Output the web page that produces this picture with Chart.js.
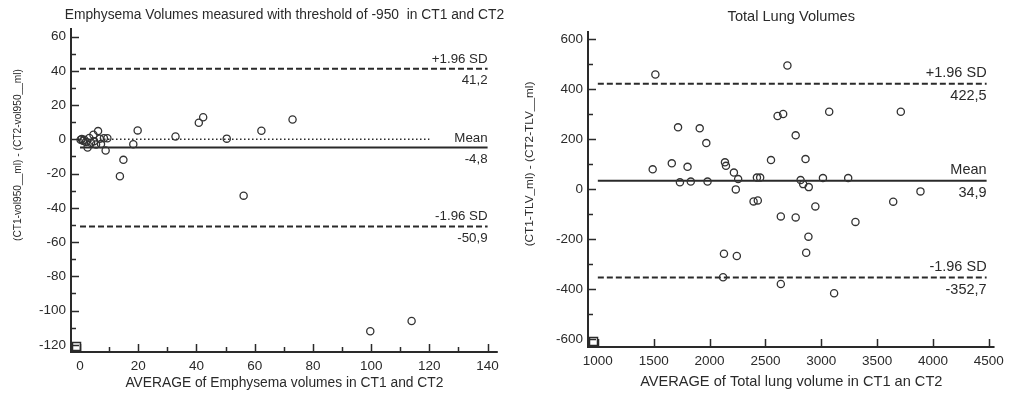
<!DOCTYPE html>
<html><head><meta charset="utf-8">
<script src="https://cdn.jsdelivr.net/npm/chart.js@4"></script>
<style>
html,body{margin:0;padding:0;background:#fff;}
#wrap{position:relative;width:1010px;height:393px;}
canvas{position:absolute;top:0;}
</style></head><body>
<div id="wrap">
<canvas id="c1" width="505" height="393" style="left:0"></canvas>
<canvas id="c2" width="505" height="393" style="left:505px"></canvas>
</div>
<script>
// ---- Data: Emphysema volumes (threshold -950) ----
const emphX = [0.2,0.6,1.0,1.5,2.0,2.6,3.2,3.8,4.6,4.8,5.5,6.2,6.8,7.2,8.2,8.8,9.4,13.7,14.9,18.3,19.8,32.8,40.8,42.3,50.4,56.2,62.3,73.0,99.7,113.9];
const emphY = [-0.3,0.2,-0.8,-0.2,-1.5,-4.8,0.8,-2.0,2.7,-1.2,-3.0,4.8,0.4,-2.8,0.6,-6.5,0.6,-21.6,-12.0,-2.9,5.2,1.7,9.7,12.9,0.4,-32.9,5.0,11.6,-112.1,-106.1];
const emphMean = -4.8;
const emphUpper = 41.2;
const emphLower = -50.9;
const emphLineRange = [0, 140];
const emphZeroRange = [0, 120];
const emphXTicks = [0, 20, 40, 60, 80, 100, 120, 140];
const emphYTicks = [-120, -100, -80, -60, -40, -20, 0, 20, 40, 60];

// ---- Data: Total lung volumes ----
const tlvX = [1491,1515,1662,1718,1735,1803,1832,1912,1971,1982,2121,2129,2138,2147,2218,2235,2244,2256,2394,2424,2432,2453,2550,2609,2638,2638,2659,2697,2771,2771,2815,2838,2859,2865,2885,2888,2947,3015,3071,3115,3241,3306,3644,3712,3888];
const tlvY = [80,459,104,248,28,90,31,244,185,31,-351,-257,108,94,67,0,-266,41,-48,47,-44,47,117,293,-108,-378,301,495,216,-112,37,21,121,-253,-189,9,-68,45,310,-415,45,-130,-49,310,-8];
const tlvMean = 34.9;
const tlvUpper = 422.5;
const tlvLower = -352.7;
const tlvLineRange = [1000, 4480];
const tlvXTicks = [1000, 1500, 2000, 2500, 3000, 3500, 4000, 4500];
const tlvYTicks = [-600, -400, -200, 0, 200, 400, 600];

// ---- Text ----
const emphTitle = "Emphysema Volumes measured with threshold of -950  in CT1 and CT2";
const emphXTitle = "AVERAGE of Emphysema volumes in CT1 and CT2";
const emphYTitle = "(CT1-vol950__ml) - (CT2-vol950__ml)";
const tlvTitle = "Total Lung Volumes";
const tlvXTitle = "AVERAGE of Total lung volume in CT1 an CT2";
const tlvYTitle = "(CT1-TLV_ml) - (CT2-TLV__ml)";
const upperLabel = "+1.96 SD", meanLabel = "Mean", lowerLabel = "-1.96 SD";

const FONT = "'Liberation Sans', Arial, sans-serif";
const INK = '#2a2a2a';
const fmt = v => v.toFixed(1).replace('.', ',');
const toPts = (xs, ys) => xs.map((x, i) => ({x, y: ys[i]}));
const hline = (range, v) => [{x: range[0], y: v}, {x: range[1], y: v}];
const minorVals = arr => arr.slice(1).map((v, i) => (v + arr[i]) / 2);

const decor = {
  id: 'decor',
  afterDraw(chart, args, o) {
    const ctx = chart.ctx, a = chart.chartArea;
    const xs = chart.scales.x, ys = chart.scales.y;
    ctx.save();
    ctx.strokeStyle = INK; ctx.fillStyle = INK;
    ctx.lineWidth = 2;
    ctx.beginPath();
    ctx.moveTo(a.left, a.top); ctx.lineTo(a.left, a.bottom); ctx.lineTo(a.right, a.bottom);
    ctx.stroke();
    ctx.lineWidth = 1.5;
    const yt = ys.ticks.map(t => t.value), xt = xs.ticks.map(t => t.value);
    ctx.beginPath();
    yt.forEach(v => { const p = Math.round(ys.getPixelForValue(v)) + 0.5; ctx.moveTo(a.left, p); ctx.lineTo(a.left + 8, p); });
    if (o.minorY) minorVals(yt).forEach(v => { const p = Math.round(ys.getPixelForValue(v)) + 0.5; ctx.moveTo(a.left, p); ctx.lineTo(a.left + 5, p); });
    xt.forEach(v => { const p = Math.round(xs.getPixelForValue(v)) + 0.5; ctx.moveTo(p, a.bottom); ctx.lineTo(p, a.bottom - 8); });
    if (o.minorX) minorVals(xt).forEach(v => { const p = Math.round(xs.getPixelForValue(v)) + 0.5; ctx.moveTo(p, a.bottom); ctx.lineTo(p, a.bottom - 5); });
    ctx.stroke();
    ctx.lineWidth = 1.5;
    ctx.strokeRect(a.left + 1.5, a.bottom - 9.5, 8, 8);
    ctx.font = o.labelSize + 'px ' + FONT;
    ctx.textAlign = 'right';
    const xr = xs.getPixelForValue(o.labelX);
    o.refs.forEach(r => {
      const p = ys.getPixelForValue(r.value);
      ctx.textBaseline = 'bottom'; ctx.fillText(r.label, xr, p - 3);
      ctx.textBaseline = 'top'; ctx.fillText(fmt(r.value), xr, p + 5);
    });
    ctx.font = o.titleSize + 'px ' + FONT;
    ctx.textAlign = 'center'; ctx.textBaseline = 'middle';
    ctx.fillText(o.title, (a.left + a.right) / 2, o.titleY);
    ctx.font = o.yTitleSize + 'px ' + FONT;
    ctx.translate(o.yTitleX, o.yTitleY);
    ctx.rotate(-Math.PI / 2);
    const w = ctx.measureText(o.yTitle).width;
    ctx.scale(Math.min(1, o.yTitleLen / w), 1);
    ctx.fillText(o.yTitle, 0, 0);
    ctx.restore();
  }
};

function makeChart(id, cfg) {
  const ptDs = {
    type: 'scatter', data: toPts(cfg.xs, cfg.ys),
    pointRadius: 3.6, pointBorderWidth: 1.3, borderColor: '#333', pointBackgroundColor: 'rgba(0,0,0,0)', backgroundColor: 'rgba(0,0,0,0)', order: 0
  };
  const lineDs = (v, range, dash, w) => ({
    type: 'line', data: hline(range, v), borderColor: INK, borderWidth: w, borderDash: dash,
    pointRadius: 0, fill: false, showLine: true, order: 1
  });
  const datasets = [ptDs,
    lineDs(cfg.upper, cfg.range, [6, 3], 2),
    lineDs(cfg.mean, cfg.range, [], 2),
    lineDs(cfg.lower, cfg.range, [6, 3], 2)];
  if (cfg.zeroRange) datasets.push(lineDs(0, cfg.zeroRange, [1.5, 2.5], 1.5));
  const tickFont = {family: FONT, size: cfg.tickSize};
  return new Chart(document.getElementById(id), {
    type: 'scatter',
    data: {datasets},
    options: {
      responsive: false, animation: false, devicePixelRatio: 1,
      layout: {padding: {left: 0, top: cfg.padTop, right: cfg.padRight, bottom: 0}},
      plugins: {
        legend: {display: false}, tooltip: {enabled: false},
        decor: {
          title: cfg.title, titleY: cfg.titleY, titleSize: cfg.titleSize, labelSize: cfg.labelSize,
          yTitle: cfg.yTitle, yTitleX: cfg.yTitleX, yTitleY: cfg.yTitleY, yTitleLen: cfg.yTitleLen, yTitleSize: cfg.yTitleSize,
          minorX: cfg.minorX, minorY: true, labelX: cfg.range[1],
          refs: [{value: cfg.upper, label: upperLabel}, {value: cfg.mean, label: meanLabel}, {value: cfg.lower, label: lowerLabel}]
        }
      },
      scales: {
        x: {
          type: 'linear', min: cfg.xMin, max: cfg.xMax,
          grid: {display: false, drawTicks: false}, border: {display: false},
          afterBuildTicks: s => { s.ticks = cfg.xTicks.map(v => ({value: v})); },
          ticks: {padding: 6, color: INK, font: tickFont, maxRotation: 0, autoSkip: false, callback: v => String(v)},
          title: {display: true, text: cfg.xTitle, color: INK, font: {family: FONT, size: cfg.titleSize}, padding: {top: 0, bottom: 2}},
          afterFit: s => { s.height = cfg.xHeight; }
        },
        y: {
          type: 'linear', min: cfg.yMin, max: cfg.yMax,
          grid: {display: false, drawTicks: false}, border: {display: false},
          afterBuildTicks: s => { s.ticks = cfg.yTicks.map(v => ({value: v})); },
          ticks: {padding: 5, color: INK, font: tickFont, autoSkip: false, callback: v => String(v)},
          afterFit: s => { s.width = cfg.yWidth; }
        }
      }
    },
    plugins: [decor]
  });
}

makeChart('c1', {
  xs: emphX, ys: emphY, mean: emphMean, upper: emphUpper, lower: emphLower,
  range: emphLineRange, zeroRange: emphZeroRange, xTicks: emphXTicks, yTicks: emphYTicks,
  xMin: -3.1, xMax: 143.5, yMin: -124.2, yMax: 65,
  yWidth: 71, xHeight: 41, padTop: 28, padRight: 6, minorX: true,
  tickSize: 13.5, titleSize: 13.8, labelSize: 13.3, yTitleSize: 11.5,
  title: emphTitle, titleY: 15, xTitle: emphXTitle, yTitle: emphYTitle, yTitleX: 18, yTitleY: 155, yTitleLen: 172
});
makeChart('c2', {
  xs: tlvX, ys: tlvY, mean: tlvMean, upper: tlvUpper, lower: tlvLower,
  range: tlvLineRange, zeroRange: null, xTicks: tlvXTicks, yTicks: tlvYTicks,
  xMin: 912, xMax: 4551, yMin: -630, yMax: 633,
  yWidth: 83, xHeight: 46, padTop: 31, padRight: 10, minorX: false,
  tickSize: 13.5, titleSize: 14.6, labelSize: 14.5, yTitleSize: 11.8,
  title: tlvTitle, titleY: 17, xTitle: tlvXTitle, yTitle: tlvYTitle, yTitleX: 25, yTitleY: 164, yTitleLen: 165
});
</script>
</body></html>
